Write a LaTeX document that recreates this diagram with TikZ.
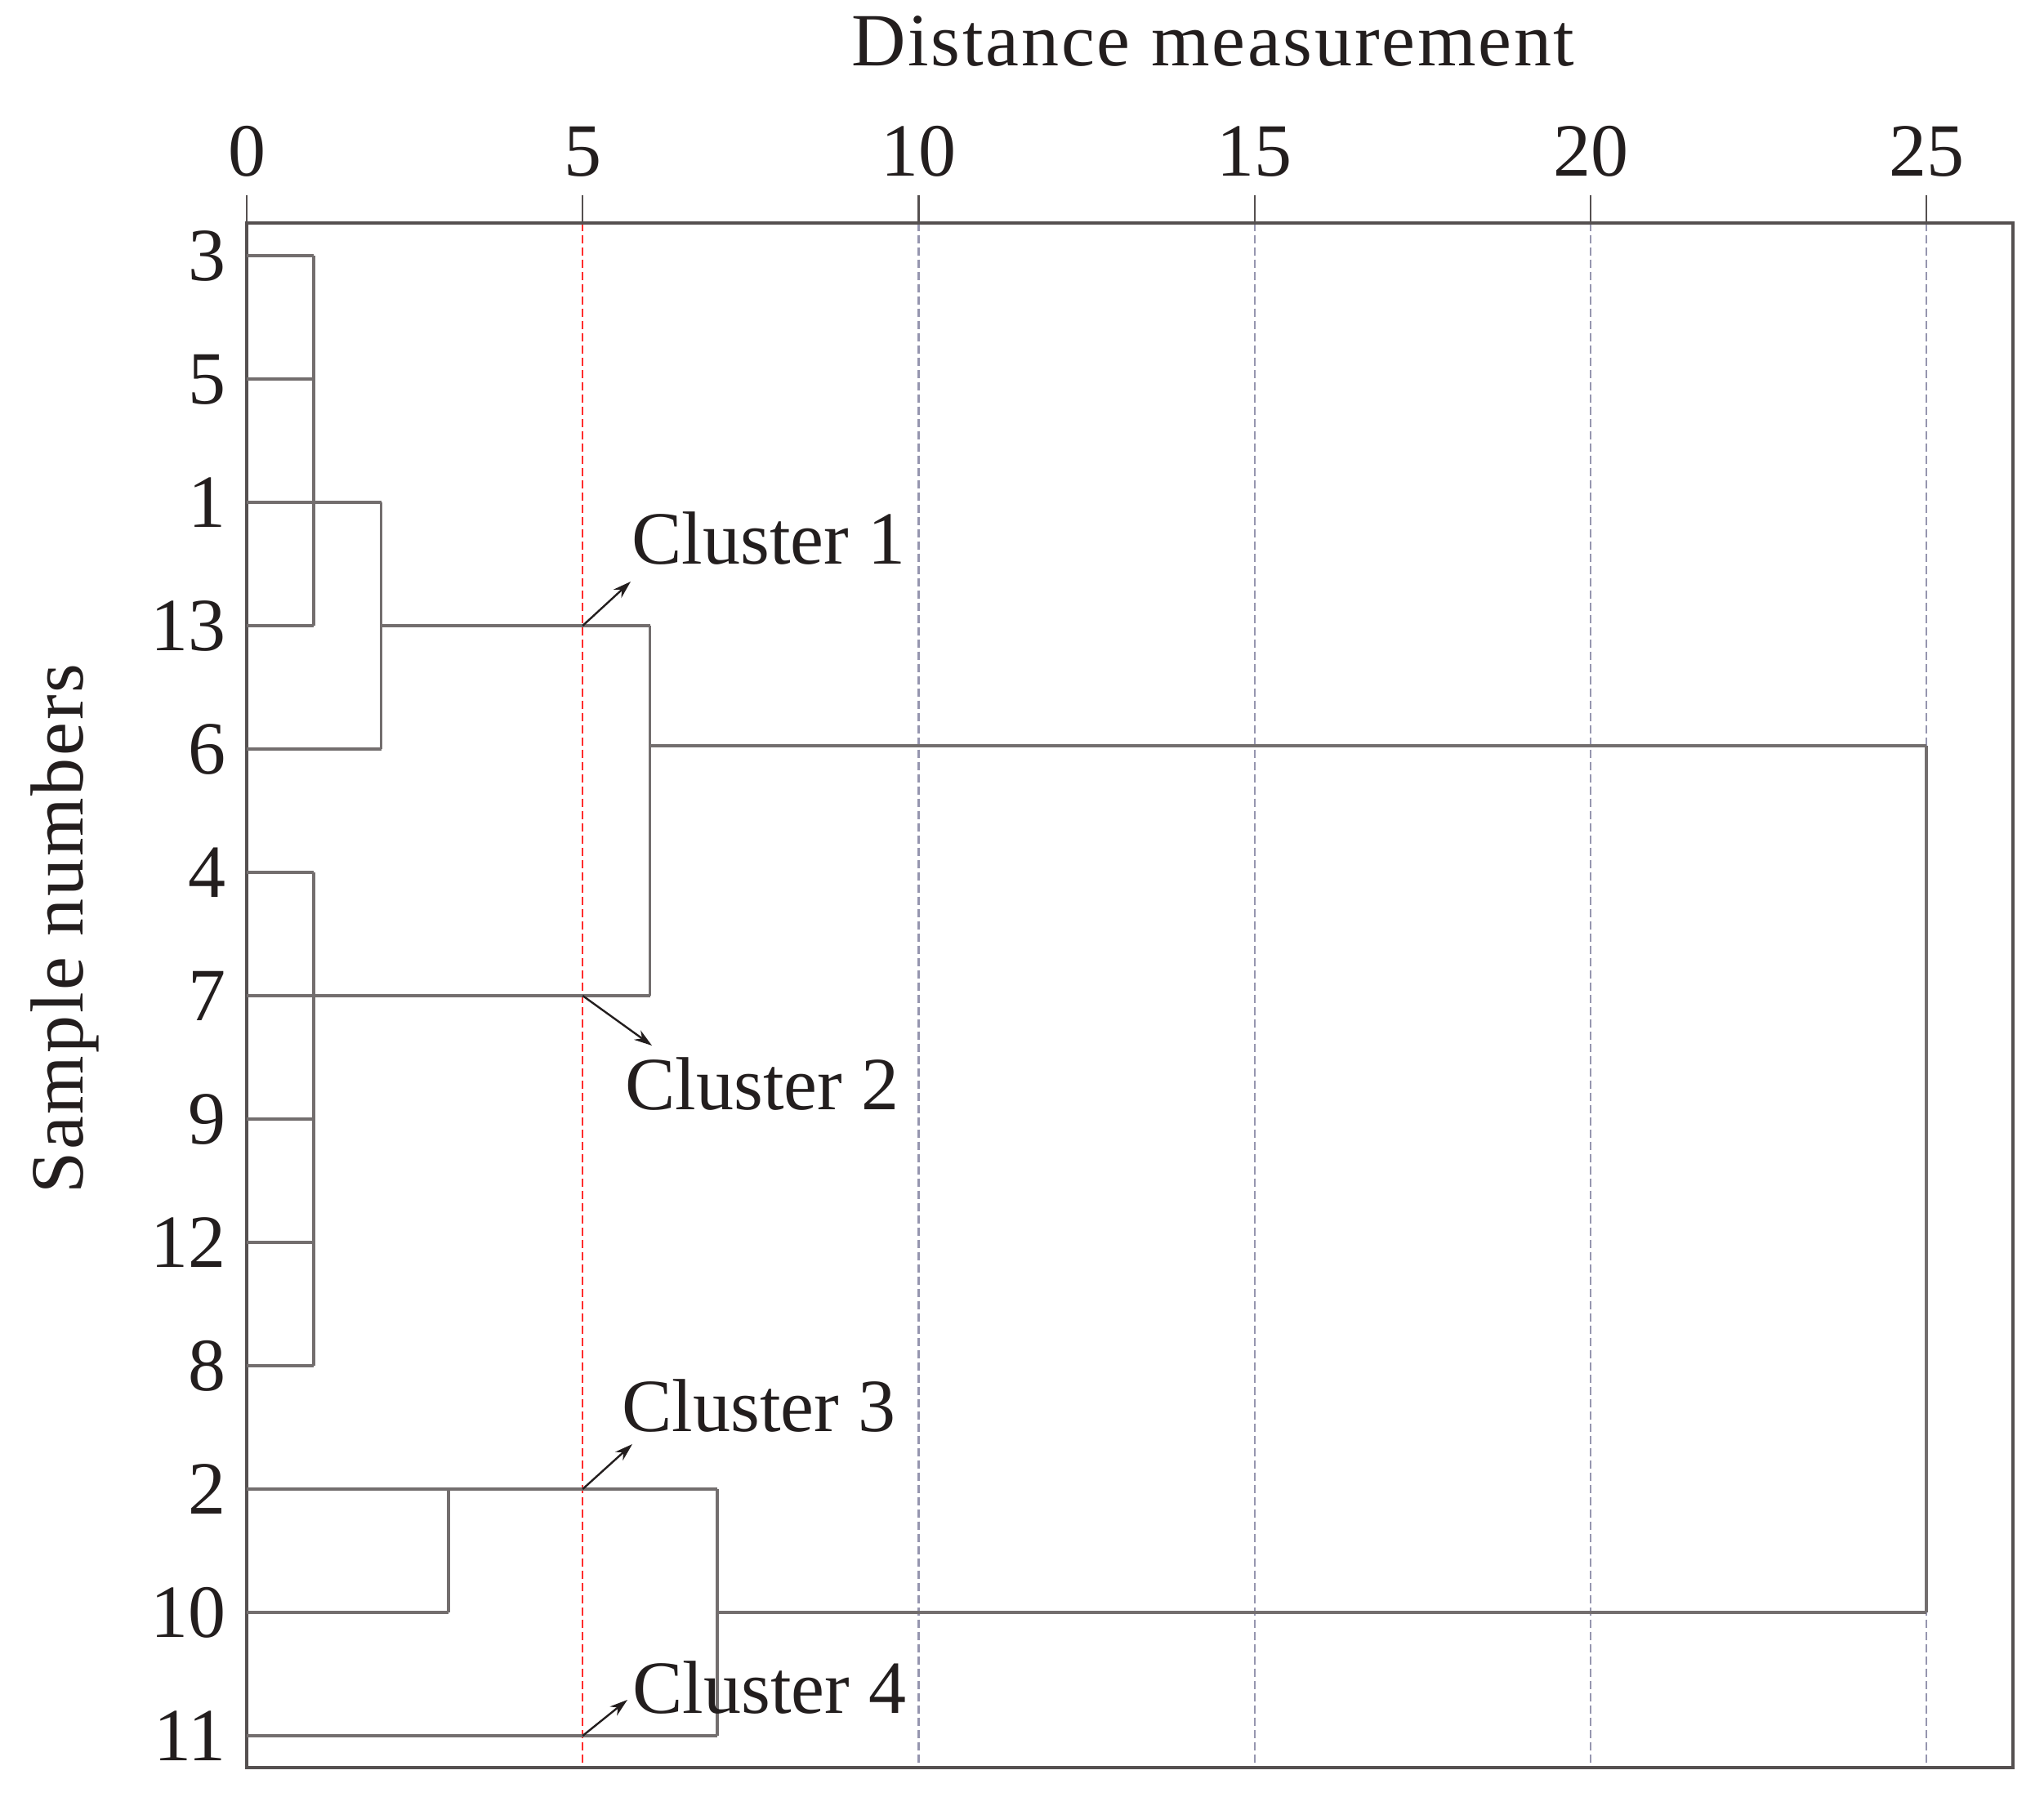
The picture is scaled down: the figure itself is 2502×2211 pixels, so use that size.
\documentclass[tikz,border=0pt]{standalone}
\usepackage{fontspec}
\setmainfont{Liberation Serif}
\usetikzlibrary{arrows.meta}
\definecolor{treecol}{RGB}{115,110,110}
\definecolor{framecol}{RGB}{85,80,80}
\definecolor{gridcol}{RGB}{150,150,175}
\definecolor{redcol}{RGB}{255,45,45}
\definecolor{txtcol}{RGB}{35,30,30}
\begin{document}
\begin{tikzpicture}[x=0.5pt,y=-0.5pt,
  tree/.style={draw=treecol,line width=1.9pt},
  frame/.style={draw=framecol,line width=2pt},
  tickln/.style={draw=framecol,line width=1.1pt},
  gridln/.style={draw=gridcol,line width=1.1pt,dash pattern=on 5pt off 2.5pt},
  redln/.style={draw=redcol,line width=1.1pt,dash pattern=on 5pt off 2.5pt},
  lbl/.style={inner sep=0pt,text=txtcol,font=\fontsize{46}{52}\selectfont},
  arr/.style={draw=txtcol,line width=1.2pt,-{Stealth[length=11pt,width=7pt]}}]
\useasboundingbox (0,0) rectangle (2502,2211);
% x positions
\def\uA{302}      % 0
\def\uB{384.25}   % 1
\def\uC{466.5}    % 2
\def\uD{548.75}   % 3
\def\uE{713.25}   % 5
\def\uF{795.5}    % 6
\def\uG{877.75}   % 7
\def\uH{1124.5}   % 10
\def\uI{1535.75}  % 15
\def\uJ{1947}     % 20
\def\uK{2358.25}  % 25
% grid lines
\foreach \xx/\nm in {\uH/g10,\uI/g15,\uJ/g20,\uK/g25}{
  \coordinate (\nm t) at (\xx,272.5);
  \coordinate (\nm b) at (\xx,2164);
  \draw[gridln] (\nm t) -- (\nm b);
}
\coordinate (r5t) at (\uE,272.5);
\coordinate (r5b) at (\uE,2164);
\draw[redln] (r5t) -- (r5b);
% frame
\draw[frame] (\uA,272.5) rectangle (2464,2164);
% ticks and labels
\foreach \xx/\t in {\uA/0,\uE/5,\uH/10,\uI/15,\uJ/20,\uK/25}{
  \draw[tickln] (\xx,239) -- (\xx,272.5);
  \node[lbl,anchor=base] (tk\t) at (\xx,215) {\t};
}
\node[lbl,anchor=base] (title) at (1485,80) {\addfontfeature{LetterSpace=3}Distance measurement};
\node[lbl,anchor=base,rotate=90] (ylab) at (101,1137) {\addfontfeature{LetterSpace=3}Sample numbers};
% row labels
\foreach \nn [count=\i from 0] in {3,5,1,13,6,4,7,9,12,8,2,10,11}{
  \node[lbl,anchor=base east] (row\nn) at (277,{313+151*\i+30}) {\nn};
}
% tree group 1
\draw[tree] (\uA,313) -- (\uB,313);
\draw[tree] (\uA,464) -- (\uB,464);
\draw[tree] (\uA,766) -- (\uB,766);
\draw[tree] (\uB,313) -- (\uB,766);
\draw[tree] (\uA,615) -- (\uC,615);
\draw[tree] (\uA,917) -- (\uC,917);
\draw[tree] (\uC,615) -- (\uC,917);
\draw[tree] (\uC,766) -- (\uF,766);
% tree group 2
\draw[tree] (\uA,1068) -- (\uB,1068);
\draw[tree] (\uA,1370) -- (\uB,1370);
\draw[tree] (\uA,1521) -- (\uB,1521);
\draw[tree] (\uA,1672) -- (\uB,1672);
\draw[tree] (\uB,1068) -- (\uB,1672);
\draw[tree] (\uA,1219) -- (\uF,1219);
\draw[tree] (\uF,766) -- (\uF,1219);
\draw[tree] (\uF,913) -- (\uK,913);
% tree group 3
\draw[tree] (\uA,1823) -- (\uG,1823);
\draw[tree] (\uA,1974) -- (\uD,1974);
\draw[tree] (\uD,1823) -- (\uD,1974);
\draw[tree] (\uA,2125) -- (\uG,2125);
\draw[tree] (\uG,1823) -- (\uG,2125);
\draw[tree] (\uG,1974) -- (\uK,1974);
\draw[tree] (\uK,913) -- (\uK,1974);
% cluster labels
\node[lbl,anchor=base west] (c1) at (773,690) {Cluster 1};
\node[lbl,anchor=base west] (c2) at (765,1358) {Cluster 2};
\node[lbl,anchor=base west] (c3) at (761,1752) {Cluster 3};
\node[lbl,anchor=base west] (c4) at (774,2097) {Cluster 4};
% arrows
\coordinate (a1s) at (\uE,766);  \coordinate (a1e) at (772,712);
\coordinate (a2s) at (\uE,1219); \coordinate (a2e) at (798,1280);
\coordinate (a3s) at (\uE,1823); \coordinate (a3e) at (774,1768);
\coordinate (a4s) at (\uE,2125); \coordinate (a4e) at (768,2081);
\draw[arr] (a1s) -- (a1e);
\draw[arr] (a2s) -- (a2e);
\draw[arr] (a3s) -- (a3e);
\draw[arr] (a4s) -- (a4e);
\end{tikzpicture}
\end{document}
